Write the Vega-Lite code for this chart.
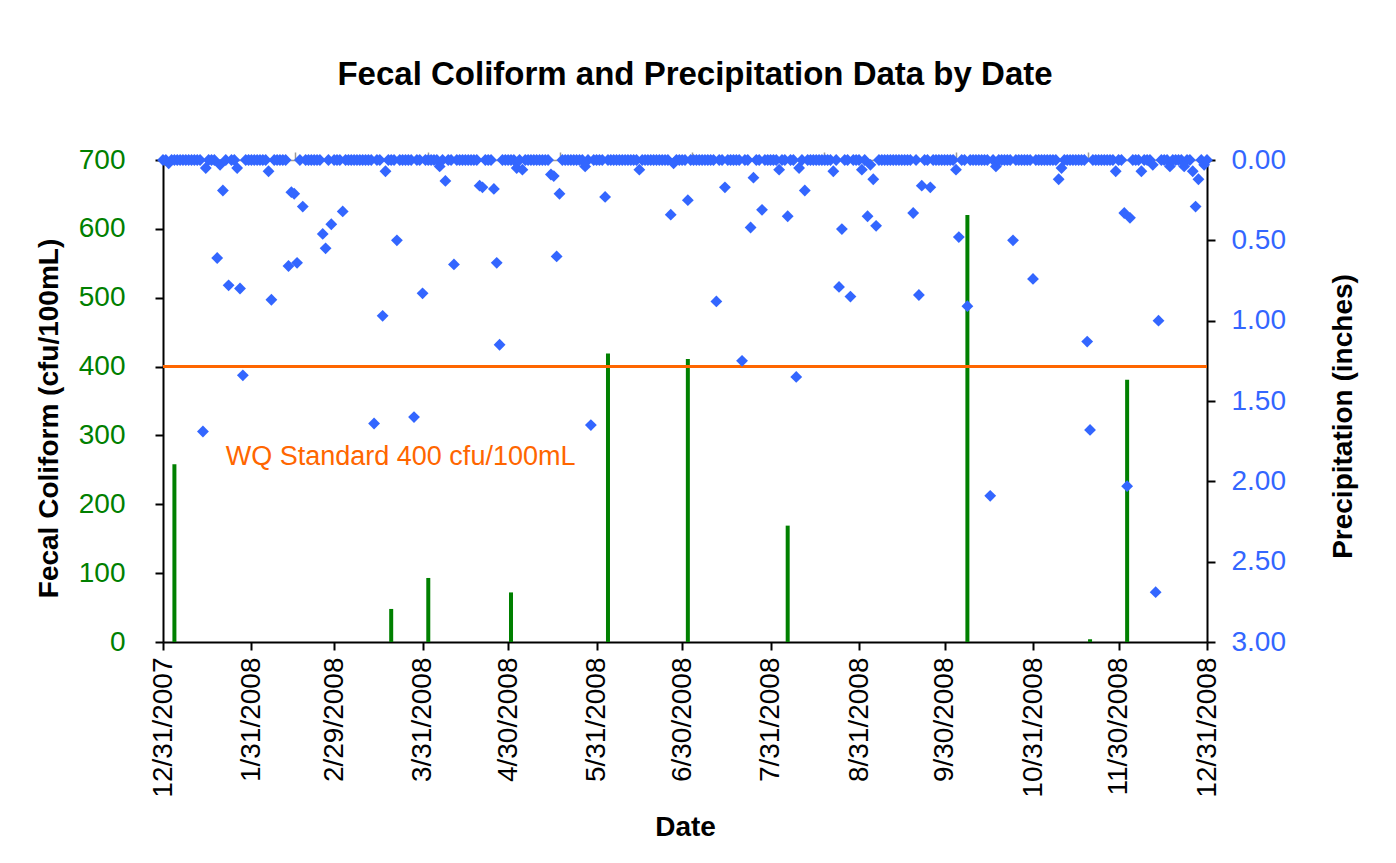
{
"$schema": "https://vega.github.io/schema/vega-lite/v6.json",
"width": 1044, "height": 482,
"autosize": {"type": "none"},
"padding": {"left": 163, "top": 160, "right": 189, "bottom": 221},
"background": "white",
"config": {"font": "Liberation Sans", "view": {"stroke": null}},
"title": {"text": "Fecal Coliform and Precipitation Data by Date", "fontSize": 33, "fontWeight": "bold", "color": "black", "frame": "group", "anchor": "middle", "offset": 54, "dx": 10},
"datasets": {
"fc": [
{"d":"2008-01-04","fc":258},{"d":"2008-03-20","fc":48},{"d":"2008-04-02","fc":93},{"d":"2008-05-01","fc":72},{"d":"2008-06-04","fc":419},{"d":"2008-07-02","fc":411},{"d":"2008-08-06","fc":169},{"d":"2008-10-08","fc":620},{"d":"2008-11-20","fc":4},{"d":"2008-12-03","fc":381}
],
"pr": [
{"d":"2007-12-31","p":0},
{"d":"2008-01-01","p":0},{"d":"2008-01-02","p":0.02},{"d":"2008-01-03","p":0},{"d":"2008-01-04","p":0},{"d":"2008-01-05","p":0},{"d":"2008-01-06","p":0},{"d":"2008-01-07","p":0},{"d":"2008-01-08","p":0},{"d":"2008-01-09","p":0},{"d":"2008-01-10","p":0},{"d":"2008-01-11","p":0},{"d":"2008-01-12","p":0},{"d":"2008-01-13","p":0},{"d":"2008-01-14","p":1.69},{"d":"2008-01-15","p":0.05},{"d":"2008-01-16","p":0},{"d":"2008-01-17","p":0},{"d":"2008-01-18","p":0},{"d":"2008-01-19","p":0.61},{"d":"2008-01-20","p":0.03},{"d":"2008-01-21","p":0.19},{"d":"2008-01-22","p":0},{"d":"2008-01-23","p":0.78},{"d":"2008-01-24","p":0},{"d":"2008-01-25","p":0},{"d":"2008-01-26","p":0.05},{"d":"2008-01-27","p":0.80},{"d":"2008-01-28","p":1.34},{"d":"2008-01-29","p":0},{"d":"2008-01-30","p":0},{"d":"2008-01-31","p":0},
{"d":"2008-02-01","p":0},{"d":"2008-02-02","p":0},{"d":"2008-02-03","p":0},{"d":"2008-02-04","p":0},{"d":"2008-02-05","p":0},{"d":"2008-02-06","p":0.07},{"d":"2008-02-07","p":0.87},{"d":"2008-02-08","p":0},{"d":"2008-02-09","p":0},{"d":"2008-02-10","p":0},{"d":"2008-02-11","p":0},{"d":"2008-02-12","p":0},{"d":"2008-02-13","p":0.66},{"d":"2008-02-14","p":0.20},{"d":"2008-02-15","p":0.21},{"d":"2008-02-16","p":0.64},{"d":"2008-02-17","p":0},{"d":"2008-02-18","p":0.29},{"d":"2008-02-19","p":0},{"d":"2008-02-20","p":0},{"d":"2008-02-21","p":0},{"d":"2008-02-22","p":0},{"d":"2008-02-23","p":0},{"d":"2008-02-24","p":0},{"d":"2008-02-25","p":0.46},{"d":"2008-02-26","p":0.55},{"d":"2008-02-27","p":0},{"d":"2008-02-28","p":0.40},{"d":"2008-02-29","p":0},
{"d":"2008-03-01","p":0},{"d":"2008-03-02","p":0},{"d":"2008-03-03","p":0.32},{"d":"2008-03-04","p":0},{"d":"2008-03-05","p":0},{"d":"2008-03-06","p":0},{"d":"2008-03-07","p":0},{"d":"2008-03-08","p":0},{"d":"2008-03-09","p":0},{"d":"2008-03-10","p":0},{"d":"2008-03-11","p":0},{"d":"2008-03-12","p":0},{"d":"2008-03-13","p":0},{"d":"2008-03-14","p":1.64},{"d":"2008-03-15","p":0},{"d":"2008-03-16","p":0},{"d":"2008-03-17","p":0.97},{"d":"2008-03-18","p":0.07},{"d":"2008-03-19","p":0},{"d":"2008-03-20","p":0},{"d":"2008-03-21","p":0},{"d":"2008-03-22","p":0.50},{"d":"2008-03-23","p":0},{"d":"2008-03-24","p":0},{"d":"2008-03-25","p":0},{"d":"2008-03-26","p":0},{"d":"2008-03-27","p":0},{"d":"2008-03-28","p":1.60},{"d":"2008-03-29","p":0},{"d":"2008-03-30","p":0},{"d":"2008-03-31","p":0.83},
{"d":"2008-04-01","p":0},{"d":"2008-04-02","p":0},{"d":"2008-04-03","p":0},{"d":"2008-04-04","p":0},{"d":"2008-04-05","p":0},{"d":"2008-04-06","p":0.04},{"d":"2008-04-07","p":0},{"d":"2008-04-08","p":0.13},{"d":"2008-04-09","p":0},{"d":"2008-04-10","p":0},{"d":"2008-04-11","p":0.65},{"d":"2008-04-12","p":0},{"d":"2008-04-13","p":0},{"d":"2008-04-14","p":0},{"d":"2008-04-15","p":0},{"d":"2008-04-16","p":0},{"d":"2008-04-17","p":0},{"d":"2008-04-18","p":0},{"d":"2008-04-19","p":0},{"d":"2008-04-20","p":0.16},{"d":"2008-04-21","p":0.17},{"d":"2008-04-22","p":0},{"d":"2008-04-23","p":0},{"d":"2008-04-24","p":0},{"d":"2008-04-25","p":0.18},{"d":"2008-04-26","p":0.64},{"d":"2008-04-27","p":1.15},{"d":"2008-04-28","p":0},{"d":"2008-04-29","p":0},{"d":"2008-04-30","p":0},
{"d":"2008-05-01","p":0},{"d":"2008-05-02","p":0},{"d":"2008-05-03","p":0.05},{"d":"2008-05-04","p":0},{"d":"2008-05-05","p":0.06},{"d":"2008-05-06","p":0},{"d":"2008-05-07","p":0},{"d":"2008-05-08","p":0},{"d":"2008-05-09","p":0},{"d":"2008-05-10","p":0},{"d":"2008-05-11","p":0},{"d":"2008-05-12","p":0},{"d":"2008-05-13","p":0},{"d":"2008-05-14","p":0},{"d":"2008-05-15","p":0.09},{"d":"2008-05-16","p":0.10},{"d":"2008-05-17","p":0.60},{"d":"2008-05-18","p":0.21},{"d":"2008-05-19","p":0},{"d":"2008-05-20","p":0},{"d":"2008-05-21","p":0},{"d":"2008-05-22","p":0},{"d":"2008-05-23","p":0},{"d":"2008-05-24","p":0},{"d":"2008-05-25","p":0},{"d":"2008-05-26","p":0},{"d":"2008-05-27","p":0.04},{"d":"2008-05-28","p":0},{"d":"2008-05-29","p":1.65},{"d":"2008-05-30","p":0},{"d":"2008-05-31","p":0},
{"d":"2008-06-01","p":0},{"d":"2008-06-02","p":0},{"d":"2008-06-03","p":0.23},{"d":"2008-06-04","p":0},{"d":"2008-06-05","p":0},{"d":"2008-06-06","p":0},{"d":"2008-06-07","p":0},{"d":"2008-06-08","p":0},{"d":"2008-06-09","p":0},{"d":"2008-06-10","p":0},{"d":"2008-06-11","p":0},{"d":"2008-06-12","p":0},{"d":"2008-06-13","p":0},{"d":"2008-06-14","p":0},{"d":"2008-06-15","p":0.06},{"d":"2008-06-16","p":0},{"d":"2008-06-17","p":0},{"d":"2008-06-18","p":0},{"d":"2008-06-19","p":0},{"d":"2008-06-20","p":0},{"d":"2008-06-21","p":0},{"d":"2008-06-22","p":0},{"d":"2008-06-23","p":0},{"d":"2008-06-24","p":0},{"d":"2008-06-25","p":0},{"d":"2008-06-26","p":0.34},{"d":"2008-06-27","p":0.02},{"d":"2008-06-28","p":0},{"d":"2008-06-29","p":0},{"d":"2008-06-30","p":0},
{"d":"2008-07-01","p":0},{"d":"2008-07-02","p":0.25},{"d":"2008-07-03","p":0},{"d":"2008-07-04","p":0},{"d":"2008-07-05","p":0},{"d":"2008-07-06","p":0},{"d":"2008-07-07","p":0},{"d":"2008-07-08","p":0},{"d":"2008-07-09","p":0},{"d":"2008-07-10","p":0},{"d":"2008-07-11","p":0},{"d":"2008-07-12","p":0.88},{"d":"2008-07-13","p":0},{"d":"2008-07-14","p":0},{"d":"2008-07-15","p":0.17},{"d":"2008-07-16","p":0},{"d":"2008-07-17","p":0},{"d":"2008-07-18","p":0},{"d":"2008-07-19","p":0},{"d":"2008-07-20","p":0},{"d":"2008-07-21","p":1.25},{"d":"2008-07-22","p":0},{"d":"2008-07-23","p":0},{"d":"2008-07-24","p":0.42},{"d":"2008-07-25","p":0.11},{"d":"2008-07-26","p":0},{"d":"2008-07-27","p":0},{"d":"2008-07-28","p":0.31},{"d":"2008-07-29","p":0},{"d":"2008-07-30","p":0},{"d":"2008-07-31","p":0},
{"d":"2008-08-01","p":0},{"d":"2008-08-02","p":0},{"d":"2008-08-03","p":0.06},{"d":"2008-08-04","p":0},{"d":"2008-08-05","p":0},{"d":"2008-08-06","p":0.35},{"d":"2008-08-07","p":0},{"d":"2008-08-08","p":0},{"d":"2008-08-09","p":1.35},{"d":"2008-08-10","p":0.05},{"d":"2008-08-11","p":0},{"d":"2008-08-12","p":0.19},{"d":"2008-08-13","p":0},{"d":"2008-08-14","p":0},{"d":"2008-08-15","p":0},{"d":"2008-08-16","p":0},{"d":"2008-08-17","p":0},{"d":"2008-08-18","p":0},{"d":"2008-08-19","p":0},{"d":"2008-08-20","p":0},{"d":"2008-08-21","p":0},{"d":"2008-08-22","p":0.07},{"d":"2008-08-23","p":0},{"d":"2008-08-24","p":0.79},{"d":"2008-08-25","p":0.43},{"d":"2008-08-26","p":0},{"d":"2008-08-27","p":0},{"d":"2008-08-28","p":0.85},{"d":"2008-08-29","p":0},{"d":"2008-08-30","p":0},{"d":"2008-08-31","p":0},
{"d":"2008-09-01","p":0.06},{"d":"2008-09-02","p":0},{"d":"2008-09-03","p":0.35},{"d":"2008-09-04","p":0.03},{"d":"2008-09-05","p":0.12},{"d":"2008-09-06","p":0.41},{"d":"2008-09-07","p":0},{"d":"2008-09-08","p":0},{"d":"2008-09-09","p":0},{"d":"2008-09-10","p":0},{"d":"2008-09-11","p":0},{"d":"2008-09-12","p":0},{"d":"2008-09-13","p":0},{"d":"2008-09-14","p":0},{"d":"2008-09-15","p":0},{"d":"2008-09-16","p":0},{"d":"2008-09-17","p":0},{"d":"2008-09-18","p":0},{"d":"2008-09-19","p":0.33},{"d":"2008-09-20","p":0},{"d":"2008-09-21","p":0.84},{"d":"2008-09-22","p":0.16},{"d":"2008-09-23","p":0},{"d":"2008-09-24","p":0},{"d":"2008-09-25","p":0.17},{"d":"2008-09-26","p":0},{"d":"2008-09-27","p":0},{"d":"2008-09-28","p":0},{"d":"2008-09-29","p":0},{"d":"2008-09-30","p":0},
{"d":"2008-10-01","p":0},{"d":"2008-10-02","p":0},{"d":"2008-10-03","p":0},{"d":"2008-10-04","p":0.06},{"d":"2008-10-05","p":0.48},{"d":"2008-10-06","p":0},{"d":"2008-10-07","p":0},{"d":"2008-10-08","p":0.91},{"d":"2008-10-09","p":0},{"d":"2008-10-10","p":0},{"d":"2008-10-11","p":0},{"d":"2008-10-12","p":0},{"d":"2008-10-13","p":0},{"d":"2008-10-14","p":0},{"d":"2008-10-15","p":0},{"d":"2008-10-16","p":2.09},{"d":"2008-10-17","p":0},{"d":"2008-10-18","p":0.04},{"d":"2008-10-19","p":0},{"d":"2008-10-20","p":0},{"d":"2008-10-21","p":0},{"d":"2008-10-22","p":0},{"d":"2008-10-23","p":0},{"d":"2008-10-24","p":0.50},{"d":"2008-10-25","p":0},{"d":"2008-10-26","p":0},{"d":"2008-10-27","p":0},{"d":"2008-10-28","p":0},{"d":"2008-10-29","p":0},{"d":"2008-10-30","p":0},{"d":"2008-10-31","p":0.74},
{"d":"2008-11-01","p":0},{"d":"2008-11-02","p":0},{"d":"2008-11-03","p":0},{"d":"2008-11-04","p":0},{"d":"2008-11-05","p":0},{"d":"2008-11-06","p":0},{"d":"2008-11-07","p":0},{"d":"2008-11-08","p":0},{"d":"2008-11-09","p":0.12},{"d":"2008-11-10","p":0.05},{"d":"2008-11-11","p":0},{"d":"2008-11-12","p":0},{"d":"2008-11-13","p":0},{"d":"2008-11-14","p":0},{"d":"2008-11-15","p":0},{"d":"2008-11-16","p":0},{"d":"2008-11-17","p":0},{"d":"2008-11-18","p":0},{"d":"2008-11-19","p":1.13},{"d":"2008-11-20","p":1.68},{"d":"2008-11-21","p":0},{"d":"2008-11-22","p":0},{"d":"2008-11-23","p":0},{"d":"2008-11-24","p":0},{"d":"2008-11-25","p":0},{"d":"2008-11-26","p":0},{"d":"2008-11-27","p":0},{"d":"2008-11-28","p":0},{"d":"2008-11-29","p":0.07},{"d":"2008-11-30","p":0},
{"d":"2008-12-01","p":0},{"d":"2008-12-02","p":0.33},{"d":"2008-12-03","p":2.03},{"d":"2008-12-04","p":0.36},{"d":"2008-12-05","p":0},{"d":"2008-12-06","p":0},{"d":"2008-12-07","p":0},{"d":"2008-12-08","p":0.07},{"d":"2008-12-09","p":0},{"d":"2008-12-10","p":0},{"d":"2008-12-11","p":0},{"d":"2008-12-12","p":0.03},{"d":"2008-12-13","p":2.69},{"d":"2008-12-14","p":1.00},{"d":"2008-12-15","p":0},{"d":"2008-12-16","p":0},{"d":"2008-12-17","p":0},{"d":"2008-12-18","p":0.04},{"d":"2008-12-19","p":0},{"d":"2008-12-20","p":0},{"d":"2008-12-21","p":0},{"d":"2008-12-22","p":0},{"d":"2008-12-23","p":0.04},{"d":"2008-12-24","p":0},{"d":"2008-12-25","p":0},{"d":"2008-12-26","p":0.07},{"d":"2008-12-27","p":0.29},{"d":"2008-12-28","p":0.12},{"d":"2008-12-29","p":0},{"d":"2008-12-30","p":0.03},{"d":"2008-12-31","p":0}
]
},
"resolve": {"scale": {"y": "independent"}, "axis": {"x": "independent"}},
"layer": [
{
"layer": [
{
"data": {"name": "fc", "format": {"parse": {"d": "date:'%Y-%m-%d'"}}},
"mark": {"type": "rule", "color": "#008000", "strokeWidth": 4},
"encoding": {
"x": {"field": "d", "type": "temporal",
"scale": {"domain": [{"year": 2007, "month": 12, "date": 31}, {"year": 2008, "month": 12, "date": 31}]},
"axis": {"orient": "bottom", "title": "Date", "titleFontSize": 28, "titleFontWeight": "bold", "titleColor": "black", "titlePadding": 16,
"values": [{"year": 2007, "month": 12, "date": 31}, {"year": 2008, "month": 1, "date": 31}, {"year": 2008, "month": 2, "date": 29}, {"year": 2008, "month": 3, "date": 31}, {"year": 2008, "month": 4, "date": 30}, {"year": 2008, "month": 5, "date": 31}, {"year": 2008, "month": 6, "date": 30}, {"year": 2008, "month": 7, "date": 31}, {"year": 2008, "month": 8, "date": 31}, {"year": 2008, "month": 9, "date": 30}, {"year": 2008, "month": 10, "date": 31}, {"year": 2008, "month": 11, "date": 30}, {"year": 2008, "month": 12, "date": 31}],
"format": "%-m/%-d/%Y", "labelAngle": 270, "labelFontSize": 28, "labelColor": "black", "labelPadding": 7,
"tickSize": 8, "tickWidth": 2, "tickColor": "black", "domainColor": "black", "domainWidth": 2, "grid": false,
"labelFlush": false, "labelOverlap": false, "labelBound": false}},
"y": {"field": "fc", "type": "quantitative", "scale": {"domain": [0, 700]},
"axis": {"orient": "left", "title": "Fecal Coliform (cfu/100mL)", "titleFontSize": 28, "titleFontWeight": "bold", "titleColor": "black", "titlePadding": 15, "titleY": 258,
"values": [0, 100, 200, 300, 400, 500, 600, 700], "labelFontSize": 28, "labelColor": "#008000", "labelPadding": 30,
"tickSize": 8, "tickWidth": 2, "tickColor": "black", "domainColor": "black", "domainWidth": 2, "grid": false, "labelFlush": false}},
"y2": {"datum": 0}
}
},
{
"data": {"values": [{}]},
"mark": {"type": "rule", "color": "#FF6600", "strokeWidth": 3},
"encoding": {"y": {"datum": 400}}
},
{
"data": {"values": [{}]},
"mark": {"type": "text", "color": "#FF6600", "fontSize": 27, "align": "left", "baseline": "middle"},
"encoding": {
"x": {"datum": {"year": 2008, "month": 1, "date": 22}, "type": "temporal"},
"y": {"datum": 269},
"text": {"value": "WQ Standard 400 cfu/100mL"}
}
}
]
},
{
"data": {"name": "pr", "format": {"parse": {"d": "date:'%Y-%m-%d'"}}},
"mark": {"type": "point", "shape": "diamond", "filled": true, "color": "#3366FF", "size": 140, "opacity": 1},
"encoding": {
"x": {"field": "d", "type": "temporal",
"axis": {"orient": "top", "title": null, "labels": false,
"values": [{"year": 2008, "month": 2, "date": 15, "hours": 8}, {"year": 2008, "month": 4, "date": 1, "hours": 22}, {"year": 2008, "month": 5, "date": 18, "hours": 5}, {"year": 2008, "month": 7, "date": 3, "hours": 12}, {"year": 2008, "month": 8, "date": 18, "hours": 19}, {"year": 2008, "month": 10, "date": 4}, {"year": 2008, "month": 11, "date": 19, "hours": 7}],
"tickSize": 8, "tickWidth": 1.5, "tickColor": "#999999", "domainColor": "#999999", "domainWidth": 1.5, "grid": false}},
"y": {"field": "p", "type": "quantitative", "scale": {"domain": [0, 3], "reverse": true},
"axis": {"orient": "right", "title": "Precipitation (inches)", "titleAngle": 270, "titleBaseline": "top", "titleFontSize": 28, "titleFontWeight": "bold", "titleColor": "black", "titlePadding": 44, "titleY": 256,
"values": [0, 0.5, 1, 1.5, 2, 2.5, 3], "format": ".2f", "labelFontSize": 28, "labelColor": "#3366FF", "labelPadding": 16,
"tickSize": 8, "tickWidth": 2, "tickColor": "black", "domainColor": "black", "domainWidth": 2, "grid": false, "labelFlush": false}}
}
}
]
}
